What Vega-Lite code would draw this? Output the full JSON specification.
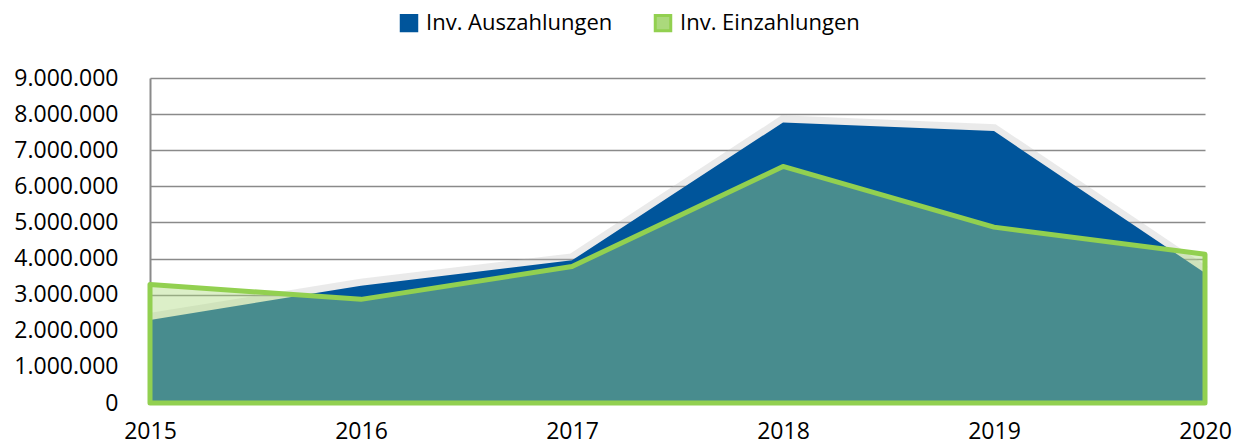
{
  "$schema": "https://vega.github.io/schema/vega-lite/v6.json",
  "width": 1055,
  "height": 325,
  "autosize": {"type": "none"},
  "padding": {"left": 150, "top": 78, "right": 37, "bottom": 45},
  "background": "white",
  "config": {
    "view": {"stroke": null},
    "locale": {"number": {"decimal": ",", "thousands": ".", "grouping": [3], "currency": ["", " €"]}},
    "font": "Open Sans",
    "axis": {"labelFont": "Open Sans", "labelColor": "#000000", "labelFontSize": 23, "ticks": false, "title": null}
  },
  "data": {
    "values": [
      {"year": 2015, "series": "Inv. Auszahlungen", "value": 2300000},
      {"year": 2016, "series": "Inv. Auszahlungen", "value": 3250000},
      {"year": 2017, "series": "Inv. Auszahlungen", "value": 3950000},
      {"year": 2018, "series": "Inv. Auszahlungen", "value": 7770000},
      {"year": 2019, "series": "Inv. Auszahlungen", "value": 7530000},
      {"year": 2020, "series": "Inv. Auszahlungen", "value": 3600000},
      {"year": 2015, "series": "Inv. Einzahlungen", "value": 3280000},
      {"year": 2016, "series": "Inv. Einzahlungen", "value": 2870000},
      {"year": 2017, "series": "Inv. Einzahlungen", "value": 3780000},
      {"year": 2018, "series": "Inv. Einzahlungen", "value": 6550000},
      {"year": 2019, "series": "Inv. Einzahlungen", "value": 4870000},
      {"year": 2020, "series": "Inv. Einzahlungen", "value": 4120000}
    ]
  },
  "encoding": {
    "x": {
      "field": "year", "type": "quantitative",
      "scale": {"domain": [2015, 2020], "nice": false, "zero": false},
      "axis": {"values": [2015, 2016, 2017, 2018, 2019, 2020], "format": "d", "grid": false, "domain": true, "domainColor": "#8a8a8a", "domainWidth": 2, "labelFlush": false, "labelPadding": 17}
    },
    "y": {
      "field": "value", "type": "quantitative",
      "scale": {"domain": [0, 9000000], "nice": false},
      "axis": {"values": [0, 1000000, 2000000, 3000000, 4000000, 5000000, 6000000, 7000000, 8000000, 9000000], "format": ",d", "grid": true, "gridColor": "#8a8a8a", "gridWidth": 1.5, "domain": true, "domainColor": "#8a8a8a", "domainWidth": 2, "labelPadding": 32}
    }
  },
  "layer": [
    {
      "transform": [{"filter": "datum.series === 'Inv. Auszahlungen'"}],
      "mark": {"type": "line", "stroke": "#b8b8b8", "strokeWidth": 10, "opacity": 0.3, "yOffset": -2},
      "encoding": {}
    },
    {
      "transform": [{"filter": "datum.series === 'Inv. Auszahlungen'"}],
      "mark": {"type": "area", "fillOpacity": 1},
      "encoding": {
        "fill": {
          "field": "series", "type": "nominal",
          "scale": {"domain": ["Inv. Auszahlungen", "Inv. Einzahlungen"], "range": ["#00559b", "#abd97c"]},
          "legend": {
            "title": null, "orient": "none", "direction": "horizontal",
            "legendX": 248, "legendY": -66,
            "labelFont": "Open Sans", "labelFontSize": 22, "labelColor": "#000000", "labelLimit": 0,
            "symbolType": "square", "symbolSize": 240, "labelOffset": 6, "columnPadding": 36,
            "encode": {
              "symbols": {
                "update": {
                  "fill": {"signal": "datum.value === 'Inv. Einzahlungen' ? '#d8eec2' : '#00559b'"},
                  "stroke": {"signal": "datum.value === 'Inv. Einzahlungen' ? '#92d050' : '#00559b'"},
                  "strokeWidth": {"value": 3},
                  "fillOpacity": {"value": 1},
                  "opacity": {"value": 1}
                }
              }
            }
          }
        }
      }
    },
    {
      "transform": [{"filter": "datum.series === 'Inv. Einzahlungen'"}],
      "mark": {"type": "area", "fillOpacity": 0.42, "stroke": "#92d050", "strokeWidth": 5, "strokeJoin": "round"},
      "encoding": {
        "fill": {"field": "series", "type": "nominal"}
      }
    }
  ]
}
